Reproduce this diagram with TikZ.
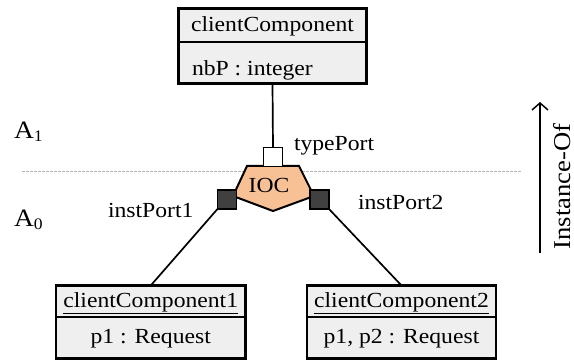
\documentclass[tikz,border=0pt]{standalone}
\usepackage{fontspec}
\setmainfont{Liberation Serif}[FakeStretch=1.1]
\usetikzlibrary{arrows.meta}
\definecolor{boxfill}{HTML}{EFEFEF}
\definecolor{iocfill}{HTML}{F8C195}
\definecolor{portdark}{HTML}{404040}
\definecolor{sepgray}{HTML}{B4B4B4}
\newcommand\lblfont{\fontsize{21.5}{24}\selectfont}
\newcommand\levelfont{\fontsize{25}{28}\selectfont}
\newcommand\instfont{\fontsize{24.2}{27}\selectfont}
\newcommand\subfont{\fontsize{16}{17}\selectfont}
\begin{document}
\begin{tikzpicture}[x=1pt,y=-1pt,
  every node/.style={inner sep=0pt, outer sep=0pt},
  txt/.style={font=\lblfont, anchor=base},
  classbox/.style={draw, fill=boxfill, line width=2.5pt},
  sepline/.style={line width=1.5pt},
  uline/.style={line width=1.2pt},
  porttype/.style={draw, fill=white, line width=1.5pt, minimum size=19pt},
  portinst/.style={draw, fill=portdark, line width=1.5pt, minimum size=19pt},
  conn/.style={line width=1.7pt},
  level/.style={font=\levelfont, anchor=base west}
]
\useasboundingbox (0,0) rectangle (574,361);

% separator between levels
\coordinate (sepL) at (22,171);
\coordinate (sepR) at (522,171);
\draw[sepgray, line width=0.8pt, dash pattern=on 3pt off 1pt] (sepL) -- (sepR);

% level labels
\node[level] (a1) at (14,139) {A\raisebox{-3pt}{\subfont 1}};
\node[level] (a0) at (14,226) {A\raisebox{-3pt}{\subfont 0}};

% top class
\node[classbox, line width=3pt, minimum width=188pt, minimum height=75pt] (cc) at (272.5,46) {};
\draw[sepline] (cc.west |- 0,42) -- (cc.east |- 0,42);
\node[txt] (ccname) at (272.5,32) {clientComponent};
\node[txt, anchor=base west] (ccattr) at (192,76) {nbP : integer};

% bottom instances
\node[classbox, minimum width=189.5pt, minimum height=73pt] (c1) at (150.75,322) {};
\draw[sepline] (c1.west |- 0,317) -- (c1.east |- 0,317);
\node[txt] (c1name) at (150.75,307) {clientComponent1};
\draw[uline] (c1name.west |- 0,313.5) -- (c1name.east |- 0,313.5);
\node[txt] (c1attr) at (150.75,343) {p1 : Request};

\node[classbox, minimum width=189pt, minimum height=73pt] (c2) at (401.5,322) {};
\draw[sepline] (c2.west |- 0,317) -- (c2.east |- 0,317);
\node[txt] (c2name) at (401.5,307) {clientComponent2};
\draw[uline] (c2name.west |- 0,313.5) -- (c2name.east |- 0,313.5);
\node[txt] (c2attr) at (401.5,343) {p1, p2 : Request};

% IOC pentagon
\draw[fill=iocfill, line width=2pt, line join=miter]
  (247,166) -- (299,166) -- (314,196) -- (273,211) -- (233,196) -- cycle;
\node[txt] (ioc) at (269,193) {IOC};

% ports
\node[porttype] (tp) at (273,157) {};
\node[portinst] (ip1) at (227,199.5) {};
\node[portinst] (ip2) at (319.5,199.5) {};

% connectors
\draw[conn] (cc.south) -- (tp.north);
\draw[conn] (ip1.south west) -- (c1.north);
\draw[conn] (ip2.south east) -- (c2.north);

% port labels
\node[txt, anchor=base west] (tpl) at (294,151) {typePort};
\node[txt, anchor=base west] (ip1l) at (108,218) {instPort1};
\node[txt, anchor=base west] (ip2l) at (358,210) {instPort2};

% Instance-Of arrow
\coordinate (arrB) at (540,253);
\coordinate (arrT) at (540,102);
\draw[line width=1.5pt, -{Straight Barb[length=7pt,width=16pt]}] (arrB) -- (arrT);
\node[font=\instfont, rotate=90, anchor=base] (inst) at (570,186.5) {Instance-Of};
\end{tikzpicture}
\end{document}
